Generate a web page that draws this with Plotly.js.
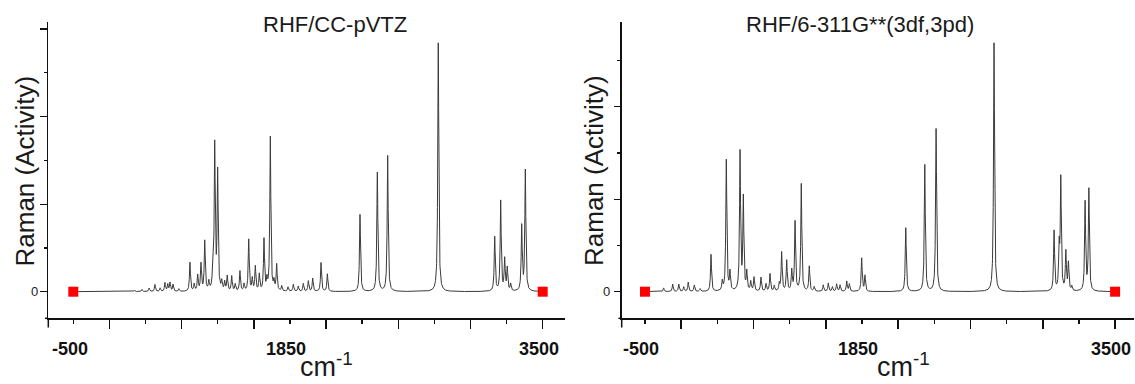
<!DOCTYPE html>
<html>
<head>
<meta charset="utf-8">
<script src="https://cdn.plot.ly/plotly-3.0.1.min.js"></script>
<style>html,body{margin:0;padding:0;background:#fff;}</style>
</head>
<body>
<div id="chart" style="width:1135px;height:384px;"></div>
<script>
// ---------- DATA ----------
const panelTitles = ['RHF/CC-pVTZ', 'RHF/6-311G**(3df,3pd)'];
const yAxisTitle = 'Raman (Activity)';
const xAxisTitle = 'cm<sup>-1</sup>';

// Spectrum range (cm-1) and the two red end markers
const spectrumStart = -500;
const spectrumEnd = 3500;
const endpointX = [-500, 3500];
const endpointY = [0, 0];

// Left panel (RHF/CC-pVTZ): band positions (cm-1) and peak heights (axis units)
const leftPeakPos = [22, 85, 146, 196, 240, 281, 305, 324, 350, 400,
  494, 530, 560, 588, 620, 655, 688, 705, 730, 765, 790, 812, 850, 880, 920, 955,
  995, 1025, 1051, 1085, 1125, 1150, 1179, 1210, 1233, 1276, 1330, 1375, 1417, 1460, 1503, 1540, 1611, 1665,
  1943, 2091, 2179, 2610,
  3091, 3142, 3176, 3198, 3227, 3321, 3352];
const leftPeakHeight = [0.015, 0.025, 0.04, 0.08, 0.04, 0.1, 0.08, 0.1, 0.08, 0.03,
  0.33, 0.08, 0.18, 0.31, 0.57, 0.1, 0.19, 1.66, 1.35, 0.1, 0.1, 0.17, 0.17, 0.08, 0.23, 0.08,
  0.59, 0.14, 0.28, 0.19, 0.59, 0.12, 1.76, 0.1, 0.3, 0.06, 0.05, 0.08, 0.06, 0.09, 0.12, 0.15, 0.33, 0.2,
  0.88, 1.36, 1.55, 2.84,
  0.62, 1.03, 0.36, 0.26, 0.08, 0.74, 1.38];

// Right panel (RHF/6-311G**(3df,3pd)): band positions (cm-1) and peak heights (axis units)
const rightPeakPos = [-341, -264, -212, -170, -132, -80, -30, 62, 158, 192, 223, 309, 337, 366, 400, 428, 487, 530, 564, 600,
  643, 663, 706, 749, 777, 830, 898, 940, 1017, 1060, 1095, 1131, 1160, 1217, 1239, 1344, 1372,
  1719, 1881, 1977, 2470,
  2981, 3024, 3038, 3081, 3103, 3132, 3245, 3277];
const rightPeakHeight = [0.04, 0.08, 0.08, 0.05, 0.1, 0.07, 0.03, 0.4, 0.1, 1.42, 0.2, 1.5, 1.0, 0.2, 0.1, 0.15, 0.15, 0.08, 0.19, 0.06,
  0.08, 0.42, 0.33, 0.22, 0.75, 1.16, 0.27, 0.05, 0.07, 0.09, 0.05, 0.08, 0.07, 0.11, 0.08, 0.36, 0.17,
  0.69, 1.37, 1.76, 2.69,
  0.65, 0.45, 1.2, 0.42, 0.3, 0.05, 0.96, 1.1];

// Band half-width at half maximum (cm-1), Lorentzian broadening
const bandHWHM = 5;

// Axis tick labels
const xTickLabelValues = [-500, 1346, 3500];
const xTickLabelText = ['-500', '1850', '3500'];
const leftYTickValues = [0, 1, 2, 3];
const rightYTickValues = [0, 1, 2];
const yTickLabelValues = [0];
const yTickLabelText = ['0'];

// ---------- build spectra ----------
function spectrum(pos, hgt) {
  const xs = [], ys = [];
  for (let v = spectrumStart; v <= spectrumEnd; v += 1) {
    let s = 0;
    for (let i = 0; i < pos.length; i++) {
      const d = (v - pos[i]) / bandHWHM;
      s += hgt[i] / (1 + d * d);
    }
    xs.push(v); ys.push(s);
  }
  return {x: xs, y: ys};
}
const L = spectrum(leftPeakPos, leftPeakHeight);
const R = spectrum(rightPeakPos, rightPeakHeight);

const W = 1135, H = 384;
const lineCol = '#3a3a3a';
const axCol = '#111111';
const font = 'Arial, "Liberation Sans", Helvetica, sans-serif';

const traces = [
  {x: L.x, y: L.y, xaxis: 'x', yaxis: 'y', mode: 'lines', line: {color: lineCol, width: 1}, hoverinfo: 'skip', showlegend: false},
  {x: endpointX, y: endpointY, xaxis: 'x', yaxis: 'y', mode: 'markers', marker: {symbol: 'square', size: 10, color: '#ff0000'}, cliponaxis: false, hoverinfo: 'skip', showlegend: false},
  {x: R.x, y: R.y, xaxis: 'x2', yaxis: 'y2', mode: 'lines', line: {color: lineCol, width: 1}, hoverinfo: 'skip', showlegend: false},
  {x: endpointX, y: endpointY, xaxis: 'x2', yaxis: 'y2', mode: 'markers', marker: {symbol: 'square', size: 10, color: '#ff0000'}, cliponaxis: false, hoverinfo: 'skip', showlegend: false}
];

function tickAxis(domain, range, anchor) {
  return {
    domain: domain, range: range, anchor: anchor,
    showline: true, linecolor: axCol, linewidth: 1.5, mirror: false,
    ticks: 'outside', ticklen: 9, tickwidth: 1.5, tickcolor: axCol,
    tickmode: 'linear', tick0: -192.3, dtick: 615.4,
    showticklabels: false, showgrid: false, zeroline: false, fixedrange: true,
    minor: {ticks: 'outside', ticklen: 4.5, tickwidth: 1.5, tickcolor: axCol, tickmode: 'linear', tick0: -500, dtick: 307.7, showgrid: false}
  };
}
function yAxis(domain, range, anchor, vals) {
  const minorVals = vals.slice(0, -1).map(v => v + 0.5);
  if (vals.length === 3) minorVals.push(2.5);
  return {
    domain: domain, range: range, anchor: anchor,
    showline: true, linecolor: axCol, linewidth: 1.5,
    ticks: 'outside', ticklen: 6.5, tickwidth: 1.2, tickcolor: axCol,
    tickmode: 'array', tickvals: vals, showticklabels: false,
    showgrid: false, zeroline: false, fixedrange: true,
    minor: {ticks: 'outside', ticklen: 3.3, tickwidth: 1.2, tickcolor: axCol, tickmode: 'array', tickvals: minorVals, showgrid: false}
  };
}

const yDom = [(H - 318.3) / H, (H - 21.7) / H];
const leftXRange = [-713, 3690];
const rightXRange = [-698, 3661];

function px(x) { return x / W; }
function py(y) { return (H - y) / H; }

// tick labels as text annotations on each panel's axes
const labelShift = -32;
const tickLabelAnns = [];
[['x', 'y', 34.3], ['x2', 'y2', 606.5]].forEach(function (p) {
  xTickLabelValues.forEach(function (v, i) {
    tickLabelAnns.push({
      text: '<b>' + xTickLabelText[i] + '</b>', xref: p[0], yref: 'paper',
      x: v + labelShift, y: py(348.5), xanchor: 'center', yanchor: 'middle',
      showarrow: false, font: {family: font, size: 18, color: '#111', weight: 'bold'}
    });
  });
  yTickLabelValues.forEach(function (v, i) {
    tickLabelAnns.push({
      text: yTickLabelText[i], xref: 'paper', yref: p[1],
      x: px(p[2]), y: v, xanchor: 'center', yanchor: 'middle',
      showarrow: false, font: {family: font, size: 13, color: '#222'}
    });
  });
});

const layout = {
  width: W, height: H, autosize: false,
  margin: {l: 0, r: 0, t: 0, b: 0, pad: 0},
  paper_bgcolor: '#fff', plot_bgcolor: '#fff',
  showlegend: false,
  xaxis: tickAxis([px(48.3), px(565)], leftXRange, 'y'),
  yaxis: yAxis(yDom, [-0.3037, 3.0822], 'x', leftYTickValues),
  xaxis2: tickAxis([px(621.7), px(1134)], rightXRange, 'y2'),
  yaxis2: yAxis(yDom, [-0.2876, 2.9189], 'x2', rightYTickValues),
  shapes: [
    {type: 'line', xref: 'paper', yref: 'paper', x0: px(48.3), x1: px(48.3), y0: py(318.3), y1: py(327.5), line: {color: axCol, width: 1.5}},
    {type: 'line', xref: 'paper', yref: 'paper', x0: px(45), x1: px(48.3), y0: py(318.3), y1: py(318.3), line: {color: axCol, width: 1.5}},
    {type: 'line', xref: 'paper', yref: 'paper', x0: px(621.7), x1: px(621.7), y0: py(318.3), y1: py(327.5), line: {color: axCol, width: 1.5}},
    {type: 'line', xref: 'paper', yref: 'paper', x0: px(618.4), x1: px(621.7), y0: py(318.3), y1: py(318.3), line: {color: axCol, width: 1.5}}
  ],
  annotations: [
    {text: panelTitles[0], xref: 'paper', yref: 'paper', x: px(335), y: py(24), xanchor: 'center', yanchor: 'middle', showarrow: false, font: {family: font, size: 22, color: '#1a1a1a'}},
    {text: panelTitles[1], xref: 'paper', yref: 'paper', x: px(860), y: py(25), xanchor: 'center', yanchor: 'middle', showarrow: false, font: {family: font, size: 22, color: '#1a1a1a'}},
    {text: yAxisTitle, xref: 'paper', yref: 'paper', x: px(24.5), y: py(171), xanchor: 'center', yanchor: 'middle', textangle: -90, showarrow: false, font: {family: font, size: 26, color: '#1a1a1a'}},
    {text: yAxisTitle, xref: 'paper', yref: 'paper', x: px(594), y: py(171), xanchor: 'center', yanchor: 'middle', textangle: -90, showarrow: false, font: {family: font, size: 26, color: '#1a1a1a'}},
    {text: xAxisTitle, xref: 'paper', yref: 'paper', x: px(326), y: 0, xanchor: 'center', yanchor: 'bottom', showarrow: false, font: {family: font, size: 27, color: '#1a1a1a'}},
    {text: xAxisTitle, xref: 'paper', yref: 'paper', x: px(903), y: 0, xanchor: 'center', yanchor: 'bottom', showarrow: false, font: {family: font, size: 27, color: '#1a1a1a'}}
  ].concat(tickLabelAnns)
};

Plotly.newPlot('chart', traces, layout, {staticPlot: true, displayModeBar: false});
</script>
</body>
</html>
